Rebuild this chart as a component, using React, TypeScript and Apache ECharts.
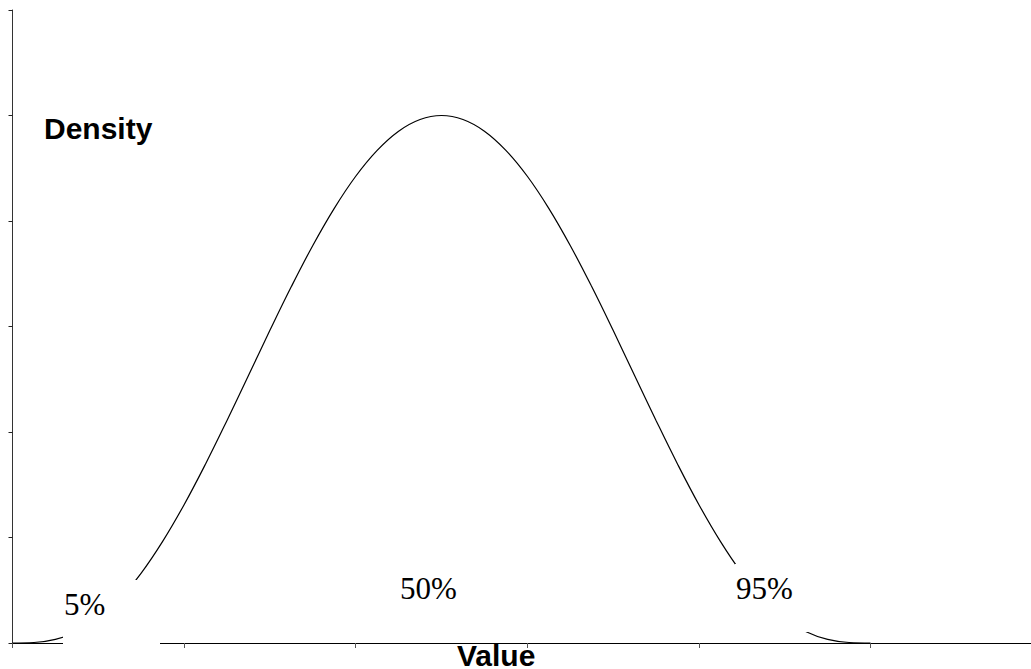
import React, { useEffect, useRef } from "react";
import * as echarts from "echarts";

// x positions of the density curve (Value)
const values: number[] = [
  0, 0.125, 0.25, 0.375, 0.5, 0.625, 0.75, 0.875, 1, 1.125, 1.25, 1.375, 1.5,
  1.625, 1.75, 1.875, 2, 2.125, 2.25, 2.375, 2.5, 2.625, 2.75, 2.875, 3, 3.125,
  3.25, 3.375, 3.5, 3.625, 3.75, 3.875, 4, 4.125, 4.25, 4.375, 4.5, 4.625, 4.75,
  4.875, 5,
];
// density
const density: number[] = [
  0, 0.0004, 0.003, 0.0094, 0.0204, 0.0366, 0.058, 0.0843, 0.1147, 0.1485,
  0.1846, 0.2219, 0.2593, 0.2956, 0.3297, 0.3605, 0.3871, 0.4086, 0.4245,
  0.4342, 0.4375, 0.4342, 0.4245, 0.4086, 0.3871, 0.3605, 0.3297, 0.2956,
  0.2593, 0.2219, 0.1846, 0.1485, 0.1147, 0.0843, 0.058, 0.0366, 0.0204,
  0.0094, 0.003, 0.0004, 0,
];
const xTicks: number[] = [0, 1, 2, 3, 4, 5];
const percentLabels: string[] = ["5%", "50%", "95%"];
const yTitle = "Density";
const xTitle = "Value";

export default function App() {
  const ref = useRef<HTMLDivElement>(null);
  useEffect(() => {
    if (!ref.current) return;
    const chart = echarts.init(ref.current, undefined, { renderer: "svg" });
    const serif = "'Liberation Serif', 'Times New Roman', serif";
    const sans = "'Liberation Sans', Arial, sans-serif";
    const labelBox = (left: number, top: number, text: string, textY: number) => ({
      type: "group",
      z: 100,
      children: [
        {
          type: "rect",
          z: 100,
          shape: { x: left, y: top, width: 97, height: 68 },
          style: { fill: "#ffffff" },
        },
        {
          type: "text",
          z: 101,
          x: left + 1,
          y: textY,
          style: {
            text,
            font: `31px ${serif}`,
            fill: "#000",
            align: "left",
            verticalAlign: "middle",
          },
        },
      ],
    });
    chart.setOption({
      animation: false,
      backgroundColor: "#ffffff",
      grid: { left: 12.5, top: 10, right: 0, bottom: 26, containLabel: false },
      xAxis: {
        type: "value",
        min: 0,
        max: 5.935,
        interval: 1,
        axisLine: { show: true, lineStyle: { color: "#000", width: 1 } },
        axisTick: {
          show: true,
          inside: false,
          length: 5,
          customValues: xTicks,
          lineStyle: { color: "#555" },
        },
        axisLabel: { show: false },
        splitLine: { show: false },
      },
      yAxis: {
        type: "value",
        min: 0,
        max: 0.525,
        interval: 0.0875,
        axisLine: { show: true, lineStyle: { color: "#333", width: 1 } },
        axisTick: { show: true, inside: false, length: 4, lineStyle: { color: "#222" } },
        axisLabel: { show: false },
        splitLine: { show: false },
      },
      series: [
        {
          type: "line",
          data: values.map((v, i) => [v, density[i]]),
          smooth: 0.4,
          showSymbol: false,
          symbol: "none",
          lineStyle: { color: "#000", width: 1.2 },
          z: 2,
        },
      ],
      graphic: [
        labelBox(63, 580, percentLabels[0], 604),
        labelBox(399, 564, percentLabels[1], 588),
        labelBox(735, 564, percentLabels[2], 588),
        {
          type: "text",
          z: 102,
          x: 44,
          y: 128,
          style: {
            text: yTitle,
            font: `bold 30px ${sans}`,
            fill: "#000",
            align: "left",
            verticalAlign: "middle",
          },
        },
        {
          type: "text",
          z: 102,
          x: 457,
          y: 655,
          style: {
            text: xTitle,
            font: `bold 30px ${sans}`,
            fill: "#000",
            align: "left",
            verticalAlign: "middle",
          },
        },
      ],
    });
    return () => chart.dispose();
  }, []);
  return (
    <div
      ref={ref}
      style={{ position: "fixed", left: 0, top: 0, width: 1031, height: 669, background: "#fff" }}
    />
  );
}
